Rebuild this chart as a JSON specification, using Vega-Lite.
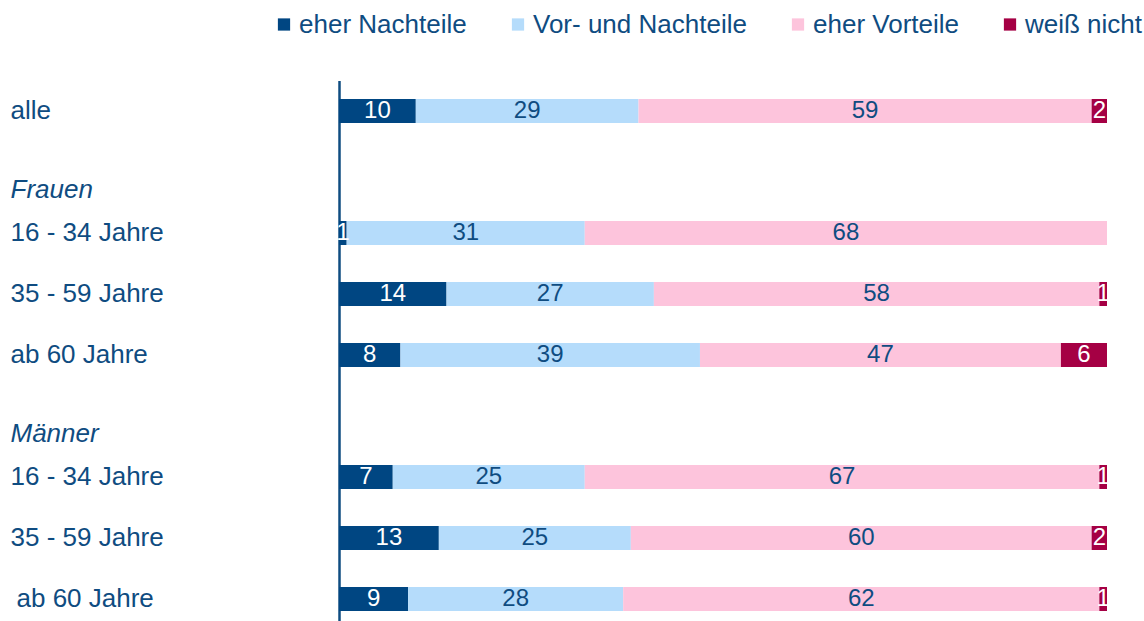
{
  "$schema": "https://vega.github.io/schema/vega-lite/v6.json",
  "autosize": "none",
  "width": 768,
  "height": 549,
  "padding": {"left": 339, "top": 80.5, "right": 37, "bottom": 0},
  "background": "white",
  "config": {"view": {"stroke": null}, "font": "Liberation Sans"},
  "data": {"values": [
    {"row": "alle", "cat": "eher Nachteile", "order": 1, "value": 10},
    {"row": "alle", "cat": "Vor- und Nachteile", "order": 2, "value": 29},
    {"row": "alle", "cat": "eher Vorteile", "order": 3, "value": 59},
    {"row": "alle", "cat": "weiß nicht", "order": 4, "value": 2},
    {"row": "F 16 - 34 Jahre", "cat": "eher Nachteile", "order": 1, "value": 1},
    {"row": "F 16 - 34 Jahre", "cat": "Vor- und Nachteile", "order": 2, "value": 31},
    {"row": "F 16 - 34 Jahre", "cat": "eher Vorteile", "order": 3, "value": 68},
    {"row": "F 35 - 59 Jahre", "cat": "eher Nachteile", "order": 1, "value": 14},
    {"row": "F 35 - 59 Jahre", "cat": "Vor- und Nachteile", "order": 2, "value": 27},
    {"row": "F 35 - 59 Jahre", "cat": "eher Vorteile", "order": 3, "value": 58},
    {"row": "F 35 - 59 Jahre", "cat": "weiß nicht", "order": 4, "value": 1},
    {"row": "F ab 60 Jahre", "cat": "eher Nachteile", "order": 1, "value": 8},
    {"row": "F ab 60 Jahre", "cat": "Vor- und Nachteile", "order": 2, "value": 39},
    {"row": "F ab 60 Jahre", "cat": "eher Vorteile", "order": 3, "value": 47},
    {"row": "F ab 60 Jahre", "cat": "weiß nicht", "order": 4, "value": 6},
    {"row": "M 16 - 34 Jahre", "cat": "eher Nachteile", "order": 1, "value": 7},
    {"row": "M 16 - 34 Jahre", "cat": "Vor- und Nachteile", "order": 2, "value": 25},
    {"row": "M 16 - 34 Jahre", "cat": "eher Vorteile", "order": 3, "value": 67},
    {"row": "M 16 - 34 Jahre", "cat": "weiß nicht", "order": 4, "value": 1},
    {"row": "M 35 - 59 Jahre", "cat": "eher Nachteile", "order": 1, "value": 13},
    {"row": "M 35 - 59 Jahre", "cat": "Vor- und Nachteile", "order": 2, "value": 25},
    {"row": "M 35 - 59 Jahre", "cat": "eher Vorteile", "order": 3, "value": 60},
    {"row": "M 35 - 59 Jahre", "cat": "weiß nicht", "order": 4, "value": 2},
    {"row": "M ab 60 Jahre", "cat": "eher Nachteile", "order": 1, "value": 9},
    {"row": "M ab 60 Jahre", "cat": "Vor- und Nachteile", "order": 2, "value": 28},
    {"row": "M ab 60 Jahre", "cat": "eher Vorteile", "order": 3, "value": 62},
    {"row": "M ab 60 Jahre", "cat": "weiß nicht", "order": 4, "value": 1}
  ]},
  "transform": [
    {"stack": "value", "groupby": ["row"], "sort": [{"field": "order", "order": "ascending"}], "as": ["x0", "x1"]},
    {"calculate": "(datum.x0 + datum.x1) / 2", "as": "mid"}
  ],
  "encoding": {
    "y": {
      "field": "row",
      "type": "nominal",
      "scale": {
        "domain": ["alle", "Frauen", "F 16 - 34 Jahre", "F 35 - 59 Jahre", "F ab 60 Jahre", "Männer", "M 16 - 34 Jahre", "M 35 - 59 Jahre", "M ab 60 Jahre"],
        "paddingInner": 0.607,
        "paddingOuter": 0.3035
      },
      "axis": {
        "title": null,
        "ticks": false,
        "labelAlign": "left",
        "labelPadding": {"condition": {"test": "datum.value == 'M ab 60 Jahre'", "value": 323}, "value": 329},
        "labelFontSize": 26,
        "labelLimit": 400,
        "labelColor": "#0F4C81",
        "labelFont": "Liberation Sans",
        "domainColor": "#0F4C81",
        "domainWidth": 2.5,
        "labelExpr": "datum.value[1] == ' ' ? substring(datum.value, 2) : datum.value",
        "labelFontStyle": {"condition": {"test": "datum.value == 'Frauen' || datum.value == 'Männer'", "value": "italic"}, "value": "normal"},
        "labelOffset": {"condition": {"test": "datum.value == 'Frauen' || datum.value == 'Männer'", "value": 18}, "value": 0}
      }
    }
  },
  "layer": [
    {
      "mark": {"type": "bar"},
      "encoding": {
        "x": {"field": "x0", "type": "quantitative", "scale": {"domain": [0, 100]}, "axis": null},
        "x2": {"field": "x1"},
        "color": {
          "field": "cat",
          "type": "nominal",
          "scale": {
            "domain": ["eher Nachteile", "Vor- und Nachteile", "eher Vorteile", "weiß nicht"],
            "range": ["#004682", "#B5DCFB", "#FDC4DC", "#A50044"]
          },
          "legend": {
            "title": null,
            "orient": "none",
            "legendX": -68,
            "legendY": -69,
            "direction": "horizontal",
            "symbolType": "square",
            "symbolSize": 150,
            "symbolStrokeWidth": 0,
            "symbolOpacity": 1,
            "labelFontSize": 26,
            "labelLimit": 400,
            "labelColor": "#0F4C81",
            "labelFont": "Liberation Sans",
            "labelOffset": 2,
            "columnPadding": 38,
            "padding": 0
          }
        }
      }
    },
    {
      "mark": {"type": "text", "fontSize": 24, "font": "Liberation Sans", "baseline": "middle", "align": "center"},
      "encoding": {
        "x": {"field": "mid", "type": "quantitative"},
        "text": {"field": "value", "type": "quantitative"},
        "color": {
          "condition": {"test": "datum.cat == 'eher Nachteile' || datum.cat == 'weiß nicht'", "value": "white"},
          "value": "#0F4C81"
        }
      }
    }
  ]
}
